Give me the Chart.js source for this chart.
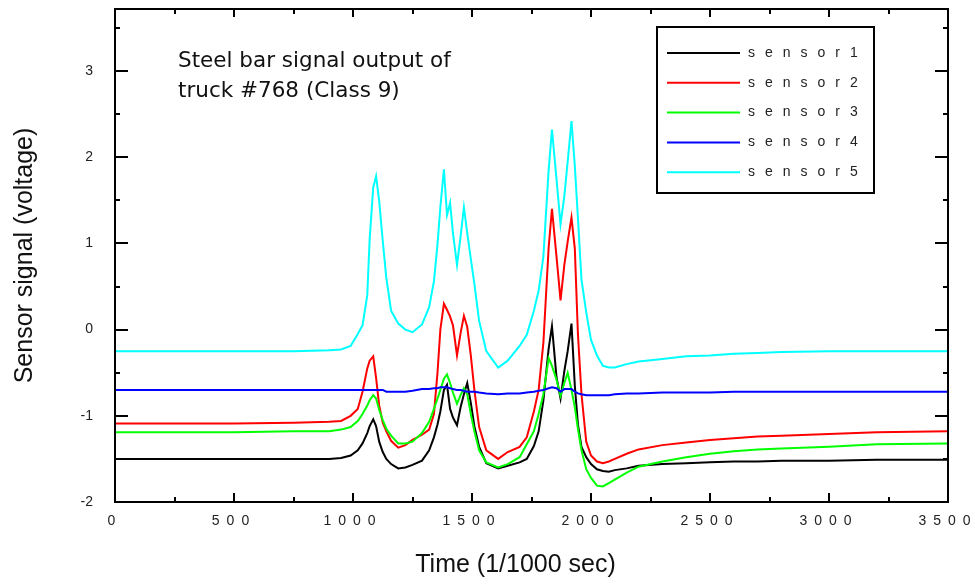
<!DOCTYPE html>
<html><head><meta charset="utf-8">
<script src="https://cdn.jsdelivr.net/npm/chart.js@4.4.0/dist/chart.umd.min.js"></script>
<style>html,body{margin:0;padding:0;background:#fff;}#wrap{width:975px;height:586px;}</style>
</head><body><div id="wrap"><canvas id="c" width="975" height="586"></canvas></div>
<script>
const time = [0,250,500,750,900, 950,990,1020,1040,1060, 1070,1085,1097,1110,1125, 1140,1160,1190,1220,1250,
  1290,1320,1340,1355,1367, 1382,1395,1408,1420,1437, 1452,1466,1480,1495,1510, 1530,1560,1610,1650,1700,
  1730,1760,1780,1800,1822, 1836,1855,1872,1888,1902, 1918,1932,1945,1960,1980, 2000,2025,2050,2075,2100,
  2150,2200,2300,2400,2500, 2600,2700,2800,3000,3200, 3500];
const sensor1 = [-1.50,-1.50,-1.50,-1.50,-1.50, -1.49,-1.46,-1.40,-1.32,-1.20, -1.12,-1.04,-1.12,-1.30,-1.42,
  -1.50,-1.56,-1.61,-1.60,-1.57, -1.52,-1.40,-1.25,-1.10,-0.95, -0.70,-0.64,-0.92,-1.02,-1.11,
  -0.90,-0.75,-0.62,-0.85,-1.12, -1.36,-1.55,-1.61,-1.58,-1.54, -1.50,-1.35,-1.18,-0.82,-0.22,
  0.04,-0.55,-0.80,-0.48,-0.25, 0.07,-0.65,-1.10,-1.36,-1.48, -1.56,-1.62,-1.64,-1.65,-1.63,
  -1.61,-1.58,-1.56,-1.55,-1.54, -1.53,-1.53,-1.52,-1.52,-1.51, -1.51];
const sensor2 = [-1.09,-1.09,-1.09,-1.08,-1.07, -1.06,-1.00,-0.92,-0.72,-0.45, -0.36,-0.31,-0.56,-0.88,-1.08,
  -1.18,-1.29,-1.37,-1.34,-1.28, -1.22,-1.16,-0.98,-0.50,0.00, 0.30,0.23,0.15,0.05,-0.30,
  -0.04,0.16,0.03,-0.30,-0.70, -1.13,-1.40,-1.50,-1.42,-1.36, -1.25,-0.95,-0.70,-0.15,0.95,
  1.40,0.85,0.34,0.75,1.02, 1.30,0.94,-0.05,-0.75,-1.30, -1.46,-1.53,-1.55,-1.53,-1.50,
  -1.44,-1.39,-1.34,-1.31,-1.28, -1.26,-1.24,-1.23,-1.21,-1.19, -1.18];
const sensor3 = [-1.19,-1.19,-1.19,-1.18,-1.18, -1.16,-1.13,-1.06,-0.98,-0.88, -0.82,-0.76,-0.80,-0.93,-1.05,
  -1.15,-1.23,-1.32,-1.32,-1.30, -1.20,-1.07,-0.92,-0.80,-0.70, -0.57,-0.52,-0.62,-0.73,-0.86,
  -0.76,-0.68,-0.75,-0.98,-1.18, -1.40,-1.54,-1.60,-1.56,-1.48, -1.33,-1.18,-0.98,-0.75,-0.33,
  -0.42,-0.58,-0.77,-0.62,-0.50, -0.70,-0.90,-1.15,-1.40,-1.62, -1.72,-1.81,-1.82,-1.78,-1.74,
  -1.66,-1.59,-1.53,-1.48,-1.44, -1.41,-1.39,-1.38,-1.36,-1.33, -1.32];
const sensor4 = [-0.70,-0.70,-0.70,-0.70,-0.70, -0.70,-0.70,-0.70,-0.70,-0.70, -0.70,-0.70,-0.70,-0.70,-0.70,
  -0.72,-0.72,-0.72,-0.72,-0.71, -0.69,-0.69,-0.68,-0.68,-0.67, -0.67,-0.67,-0.68,-0.69,-0.70,
  -0.70,-0.71,-0.72,-0.72,-0.72, -0.73,-0.74,-0.75,-0.74,-0.74, -0.73,-0.72,-0.71,-0.70,-0.68,
  -0.67,-0.68,-0.72,-0.69,-0.69, -0.69,-0.72,-0.74,-0.75,-0.76, -0.76,-0.76,-0.76,-0.76,-0.75,
  -0.74,-0.74,-0.73,-0.73,-0.73, -0.72,-0.72,-0.72,-0.72,-0.72, -0.72];
const sensor5 = [-0.25,-0.25,-0.25,-0.25,-0.24, -0.23,-0.19,-0.05,0.05,0.40, 1.05,1.65,1.78,1.49,1.03,
  0.60,0.22,0.07,0.00,-0.03, 0.06,0.26,0.56,0.99,1.42, 1.86,1.33,1.47,1.12,0.75,
  1.08,1.42,1.12,0.82,0.53, 0.10,-0.25,-0.44,-0.36,-0.19, -0.06,0.22,0.45,0.85,1.85,
  2.32,1.75,1.22,1.55,1.95, 2.42,1.90,1.30,0.58,0.20, -0.12,-0.30,-0.42,-0.44,-0.44,
  -0.40,-0.37,-0.34,-0.31,-0.30, -0.28,-0.27,-0.26,-0.25,-0.25, -0.25];
const seriesNames = ['sensor1','sensor2','sensor3','sensor4','sensor5'];
const xTicks = [0,500,1000,1500,2000,2500,3000,3500];
const yTicks = [-2,-1,0,1,2,3];
const noteLines = ['Steel bar signal output of','truck #768 (Class 9)'];
const xTitle = 'Time (1/1000 sec)';
const yTitle = 'Sensor signal (voltage)';

const seriesColors = ['#000000','#ff0000','#00ff00','#0000ff','#00ffff'];
const allSeries = [sensor1,sensor2,sensor3,sensor4,sensor5];

const decor = {
  id: 'decor',
  afterDraw(chart) {
    const {ctx, chartArea: a, scales: {x, y}} = chart;
    ctx.save();
    ctx.strokeStyle = '#000';
    ctx.lineWidth = 2;
    ctx.strokeRect(a.left, a.top, a.right - a.left, a.bottom - a.top);
    ctx.beginPath();
    for (let i = 0; i < xTicks.length; i++) {
      const px = Math.round(x.getPixelForValue(xTicks[i]));
      ctx.moveTo(px, a.bottom); ctx.lineTo(px, a.bottom - 9);
      ctx.moveTo(px, a.top); ctx.lineTo(px, a.top + 8);
      if (i < xTicks.length - 1) {
        const m = Math.round(x.getPixelForValue((xTicks[i] + xTicks[i + 1]) / 2));
        ctx.moveTo(m, a.bottom); ctx.lineTo(m, a.bottom - 5);
        ctx.moveTo(m, a.top); ctx.lineTo(m, a.top + 5);
      }
    }
    for (let i = 0; i < yTicks.length; i++) {
      const py = Math.round(y.getPixelForValue(yTicks[i]));
      ctx.moveTo(a.left, py); ctx.lineTo(a.left + 13, py);
      ctx.moveTo(a.right, py); ctx.lineTo(a.right - 13, py);
      const m = Math.round(y.getPixelForValue(yTicks[i] + 0.5));
      ctx.moveTo(a.left, m); ctx.lineTo(a.left + 5, m);
      ctx.moveTo(a.right, m); ctx.lineTo(a.right - 5, m);
    }
    ctx.stroke();
    // x tick labels, letter spaced
    ctx.fillStyle = '#222';
    ctx.font = '14px "Liberation Sans", Arial, sans-serif';
    ctx.textAlign = 'center';
    ctx.textBaseline = 'middle';
    ctx.letterSpacing = '7px';
    for (const v of xTicks) {
      ctx.fillText(String(v), x.getPixelForValue(v), a.bottom + 19);
    }
    ctx.letterSpacing = '0px';
    // x axis title
    ctx.fillStyle = '#111';
    ctx.font = '25px "Liberation Sans", Arial, sans-serif';
    ctx.fillText(xTitle, (a.left + a.right) / 2 - 16, a.bottom + 63);
    // annotation
    ctx.textAlign = 'left';
    ctx.textBaseline = 'alphabetic';
    ctx.font = '21.5px "DejaVu Sans", sans-serif';
    noteLines.forEach((t, i) => ctx.fillText(t, a.left + 63, a.top + 58 + i * 30));
    // legend
    const bx = a.right - 74 - 217, by = a.top + 18, bw = 217, bh = 166;
    ctx.lineWidth = 2;
    ctx.strokeStyle = '#000';
    ctx.strokeRect(bx, by, bw, bh);
    ctx.font = '14px "Liberation Sans", Arial, sans-serif';
    ctx.textBaseline = 'middle';
    ctx.letterSpacing = '10px';
    chart.data.datasets.forEach((ds, i) => {
      const ry = by + 26 + i * 29.8;
      ctx.strokeStyle = ds.borderColor;
      ctx.lineWidth = 2;
      ctx.beginPath(); ctx.moveTo(bx + 10, ry); ctx.lineTo(bx + 83, ry); ctx.stroke();
      ctx.fillStyle = '#222';
      ctx.fillText(ds.label, bx + 91, ry);
    });
    ctx.restore();
  }
};

new Chart(document.getElementById('c'), {
  type: 'line',
  data: {
    datasets: seriesNames.map((n, i) => ({
      label: n,
      data: time.map((t, j) => ({x: t, y: allSeries[i][j]})),
      borderColor: seriesColors[i],
      borderWidth: 2,
      pointRadius: 0,
      tension: 0,
      fill: false,
      order: 5 - i
    }))
  },
  options: {
    responsive: false,
    animation: false,
    devicePixelRatio: 1,
    layout: {autoPadding: false, padding: {top: 9, right: 27, left: 0, bottom: 0}},
    plugins: {legend: {display: false}, tooltip: {enabled: false}},
    scales: {
      x: {
        type: 'linear', min: 0, max: 3500,
        afterBuildTicks: s => { s.ticks = xTicks.map(v => ({value: v})); },
        afterFit: s => { s.height = 84; s.paddingLeft = 0; s.paddingRight = 0; },
        grid: {display: false, drawTicks: false},
        border: {display: false},
        ticks: {display: false},
        title: {display: false, text: xTitle}
      },
      y: {
        type: 'linear', min: -2, max: 3.72,
        afterBuildTicks: s => { s.ticks = yTicks.map(v => ({value: v})); },
        afterFit: s => { s.width = 115; s.paddingTop = 0; s.paddingBottom = 0; },
        grid: {display: false, drawTicks: false},
        border: {display: false},
        ticks: {color: '#222', padding: 22,
          font: {family: '"Liberation Sans", Arial, sans-serif', size: 14}},
        title: {display: true, text: yTitle, color: '#111',
          font: {family: '"Liberation Sans", Arial, sans-serif', size: 25},
          padding: {top: 10, bottom: 0}}
      }
    }
  },
  plugins: [decor]
});
</script></body></html>
